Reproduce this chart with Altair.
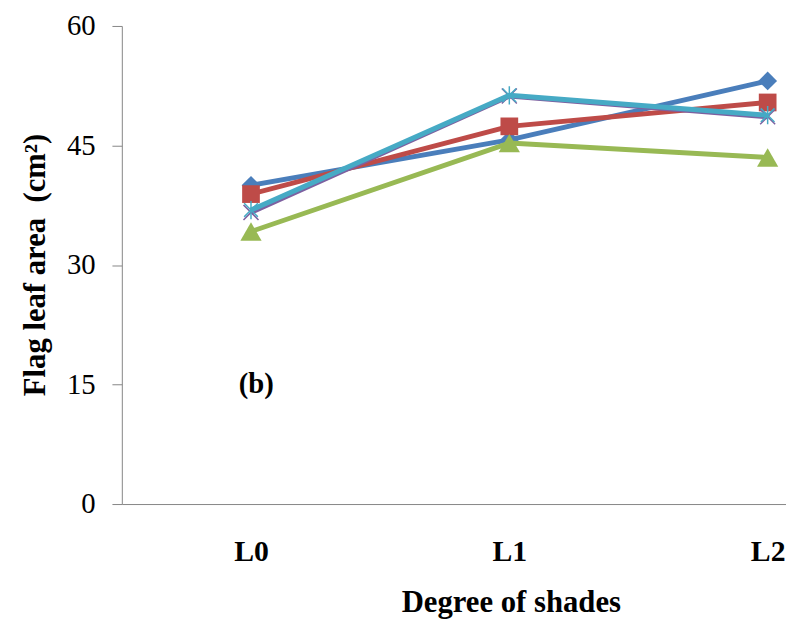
import altair as alt
import pandas as pd

# ---- data ----
categories = ["L0", "L1", "L2"]
series_names = ["Series 1", "Series 2", "Series 3", "Series 4", "Series 5"]
series_1 = [40.0, 45.7, 53.1]   # blue, diamond
series_2 = [38.9, 47.4, 50.4]   # red, square
series_3 = [34.2, 45.3, 43.5]   # green, triangle
series_4 = [36.6, 51.2, 48.6]   # purple, x
series_5 = [36.9, 51.3, 48.8]   # cyan, star
y_ticks = [0, 15, 30, 45, 60]
panel_label = "(b)"
panel_label_x = [0.02]
panel_label_y = [15]

all_series = [series_1, series_2, series_3, series_4, series_5]

# ---- styles ----
line_colors = ["#4A7EBB", "#BE4B48", "#98B954", "#7D60A0", "#46AAC5"]
X_PATH = "M-1,-1L1,1M-1,1L1,-1"
STAR_PATH = "M0,-1L0,1M-0.75,-0.75L0.75,0.75M-0.75,0.75L0.75,-0.75"
marker_styles = [
    dict(shape="diamond", filled=True, size=360),
    dict(shape="square", filled=True, size=320),
    dict(shape="triangle-up", filled=True, size=460),
    dict(shape=X_PATH, filled=False, size=230, strokeWidth=1.5),
    dict(shape=STAR_PATH, filled=False, size=340, strokeWidth=1.5),
]

SERIF = "Liberation Serif"
label_expr = "[" + ",".join("'%s'" % c for c in categories) + "][datum.value]"

x_enc = alt.X(
    "idx:Q",
    scale=alt.Scale(domain=[-0.5, 2.071], nice=False, zero=False),
    axis=alt.Axis(
        values=list(range(len(categories))),
        labelExpr=label_expr,
        ticks=False,
        tickSize=0,
        grid=False,
        domainColor="#868686",
        domainWidth=1,
        labelFont=SERIF,
        labelFontWeight="bold",
        labelFontSize=30,
        labelColor="black",
        labelBaseline="alphabetic",
        labelPadding=57,
        labelFlush=False,
        labelOverlap=False,
        title="Degree of shades",
        titleFont=SERIF,
        titleFontWeight="bold",
        titleFontSize=31,
        titleColor="black",
        titleAlign="center",
        titleBaseline="alphabetic",
        titleX=393,
        titleY=109,
    ),
)

y_enc = alt.Y(
    "value:Q",
    scale=alt.Scale(domain=[0, 60], nice=False, zero=True),
    axis=alt.Axis(
        values=y_ticks,
        tickSize=10,
        tickColor="#868686",
        tickWidth=1,
        domainColor="#868686",
        domainWidth=1,
        grid=False,
        labelFont=SERIF,
        labelFontSize=29,
        labelColor="black",
        labelPadding=17,
        labelFlush=False,
        labelOverlap=False,
        title="Flag leaf area\u00a0\u00a0(cm²)",
        titleFont=SERIF,
        titleFontWeight="bold",
        titleFontSize=31,
        titleColor="black",
        titleAngle=270,
        titleAlign="center",
        titleBaseline="middle",
        titleX=-87,
        titleY=241,
    ),
)

layers = []
for name, vals, col, mk in zip(series_names, all_series, line_colors, marker_styles):
    df = pd.DataFrame({
        "idx": list(range(len(categories))),
        "category": categories,
        "value": vals,
        "series": name,
    })
    base = alt.Chart(df)
    layers.append(base.mark_line(color=col, strokeWidth=5, strokeJoin="round").encode(x=x_enc, y=y_enc))
    layers.append(base.mark_point(color=col, opacity=1, **mk).encode(x=x_enc, y=y_enc))

label_df = pd.DataFrame({"idx": panel_label_x, "value": panel_label_y, "text": [panel_label]})
layers.append(
    alt.Chart(label_df).mark_text(
        font=SERIF, fontWeight="bold", fontSize=29, color="black",
        align="center", baseline="middle",
    ).encode(x=x_enc, y=y_enc, text="text:N")
)

chart = alt.layer(*layers).properties(
    width=671,
    height=483,
    autosize=alt.AutoSizeParams(type="none"),
    padding={"left": 115, "top": 15, "right": 0, "bottom": 114},
    background="white",
).configure_view(strokeOpacity=0)

chart.save("out.html", embed_options={"renderer": "svg", "actions": False})
